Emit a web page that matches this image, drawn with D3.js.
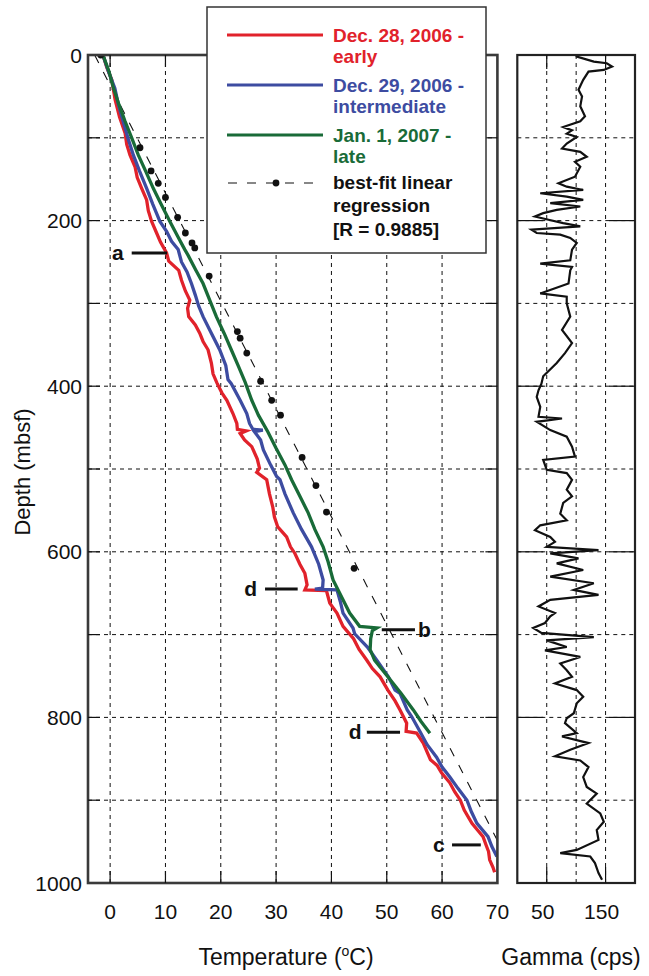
<!DOCTYPE html>
<html><head><meta charset="utf-8">
<script src="https://cdn.jsdelivr.net/npm/d3@7"></script>
<style>
html,body{margin:0;padding:0;background:#fff;}
svg{display:block;font-family:"Liberation Sans",Arial,Helvetica,sans-serif;}
</style></head>
<body><svg id="c" width="649" height="976"></svg>
<script>
// ---- data: [depth (mbsf), temperature (°C)] ----
const early = [[0,-1.3],[15,-0.6],[30,0.3],[54,0.9],[75,1.7],[94,2.7],[108,3.0],[121,3.6],[135,4.5],[148,4.9],[161,5.7],[175,6.6],[188,6.9],[201,7.5],[215,8.4],[226,9.1],[239,10.2],[249,10.6],[260,12.4],[272,12.9],[285,13.6],[296,14.4],[306,14.0],[316,14.2],[326,15.4],[336,16.2],[346,16.8],[356,17.7],[372,18.3],[385,18.6],[396,19.3],[408,20.2],[417,21.1],[433,22.2],[445,22.9],[452,23.0],[454,24.6],[457,23.5],[465,24.3],[473,25.6],[488,26.6],[499,27.0],[504,26.5],[513,28.3],[530,28.8],[546,29.4],[558,29.7],[570,30.3],[582,31.9],[594,32.6],[602,33.4],[615,34.3],[626,35.2],[640,35.6],[646,35.2],[647,39.1],[662,39.7],[674,41.0],[690,42.1],[705,44.0],[718,45.0],[731,46.4],[741,47.4],[751,48.8],[767,50.2],[780,51.5],[791,52.4],[799,53.0],[807,53.6],[817,53.5],[819,55.4],[831,56.6],[845,57.5],[851,57.9],[858,59.1],[867,59.9],[879,61.4],[890,62.3],[900,63.3],[912,64.0],[928,65.4],[936,66.4],[944,67.4],[955,68.0],[962,68.4],[972,68.6],[981,69.2],[987,69.5]];
const intermediate = [[0,-1.3],[20,-0.3],[40,0.85],[60,1.5],[80,2.35],[100,3.2],[121,4.2],[140,5.3],[161,6.6],[180,7.7],[201,9.0],[213,10.2],[225,11.1],[235,12.3],[250,12.9],[262,13.9],[276,14.7],[290,15.4],[303,16.0],[316,16.8],[336,18.3],[356,19.8],[375,20.9],[392,21.3],[397,21.9],[417,23.5],[433,24.7],[445,25.2],[452,25.8],[453,27.6],[455,26.1],[465,27.2],[477,27.7],[495,29.0],[509,30.1],[513,30.7],[530,31.6],[553,33.1],[573,34.6],[594,36.4],[615,37.7],[634,38.5],[644,38.4],[645,37.0],[646,41.0],[660,41.6],[674,42.1],[692,43.9],[699,44.2],[715,46.5],[731,48.2],[751,50.3],[767,51.5],[771,52.4],[791,53.7],[799,54.5],[817,56.0],[833,57.3],[848,59.0],[860,60.0],[872,61.4],[886,62.9],[900,64.5],[914,65.3],[928,66.3],[944,68.3],[956,69.0],[968,69.9]];
const late = [[0,-1.3],[20,-0.2],[40,0.6],[60,1.6],[80,2.7],[100,3.9],[121,5.1],[140,6.4],[161,7.8],[180,9.2],[201,10.8],[220,12.3],[235,13.5],[242,14.1],[260,15.5],[276,16.8],[296,18.0],[316,19.2],[336,20.6],[356,21.9],[376,23.2],[395,24.4],[417,25.6],[435,26.8],[455,28.5],[475,30.0],[495,31.6],[513,32.8],[533,34.3],[553,35.8],[573,37.0],[594,38.5],[612,39.4],[634,40.3],[650,41.5],[674,43.3],[690,45.1],[692,48.2],[695,47.4],[705,47.1],[718,47.0],[731,47.8],[751,50.2],[771,52.6],[791,54.8],[805,56.2],[819,57.8]];
const regressionPoints = [[0,-1.7],[112,5.4],[140,7.4],[155,8.7],[172,10.0],[196,12.2],[215,13.6],[227,14.8],[233,15.3],[267,17.9],[334,23.0],[342,23.5],[360,24.7],[394,27.2],[417,29.2],[435,30.8],[486,34.7],[520,37.2],[552,39.1],[620,44.1]];
const regressionLine = [[0,-2.8],[950,70.1]];
// ---- data: [depth (mbsf), gamma (cps)] ----
const gamma = [[0,100],[2,101],[8,130],[10,152],[14,161],[18,147],[20,121],[30,112],[42,104],[50,110],[62,107],[74,115],[80,107],[87,78],[91,93],[95,84],[99,101],[107,84],[113,76],[117,107],[123,118],[129,98],[135,107],[147,98],[155,70],[159,84],[163,112],[167,39],[171,84],[175,112],[179,56],[183,107],[187,67],[191,44],[195,30],[199,53],[203,78],[207,107],[211,24],[215,33],[217,73],[221,90],[227,101],[235,93],[248,90],[252,39],[256,93],[260,90],[276,87],[288,39],[292,84],[300,84],[316,90],[332,76],[348,93],[360,81],[372,67],[388,44],[397,41],[405,36],[413,33],[425,39],[437,36],[439,76],[443,33],[453,56],[461,84],[473,93],[485,98],[489,44],[501,50],[505,84],[513,93],[525,84],[533,93],[541,78],[554,73],[562,84],[568,39],[574,30],[582,56],[588,64],[594,50],[598,138],[602,56],[608,104],[614,67],[622,112],[630,56],[638,130],[646,96],[652,138],[658,56],[666,36],[674,64],[678,56],[686,47],[692,27],[698,41],[703,130],[707,50],[715,84],[719,47],[727,107],[735,73],[743,84],[751,93],[759,64],[767,101],[775,112],[783,101],[795,96],[801,84],[807,81],[819,101],[823,76],[831,121],[839,90],[847,64],[852,107],[860,121],[872,112],[884,118],[892,135],[904,118],[916,141],[926,147],[936,135],[948,138],[960,101],[964,73],[968,124],[976,132],[988,138],[996,144]];
// ---- ticks ----
const tempTicks = [0,10,20,30,40,50,60,70];
const tempGrid = [0,10,20,30,40,50,60];
const depthTicks = [0,200,400,600,800,1000];
const depthGrid = [100,200,300,400,500,600,700,800,900];
const gammaTicks = [50,150];
const gammaGrid = [50,100,150];
const gammaMajor = [200,400,600,800];
// ---- annotations: label, depth, temp of line start/end, label temp ----
const annotations = [
  {label:"a", depth:239, t1:3.9, t2:10.3, tl:1.4},
  {label:"d", depth:645, t1:28.0, t2:33.9, tl:25.4},
  {label:"b", depth:694, t1:49.1, t2:55.1, tl:56.8},
  {label:"d", depth:818, t1:46.4, t2:52.4, tl:44.3},
  {label:"c", depth:954, t1:61.8, t2:67.0, tl:59.4}
];
const legendItems = [
  {lines:["Dec. 28, 2006 -","early"], color:"#e1222b", type:"line"},
  {lines:["Dec. 29, 2006 -","intermediate"], color:"#3d4ca1", type:"line"},
  {lines:["Jan. 1, 2007 -","late"], color:"#196b38", type:"line"},
  {lines:["best-fit linear","regression","[R = 0.9885]"], color:"#111", type:"reg"}
];
const colors = {early:"#e1222b", intermediate:"#3d4ca1", late:"#196b38"};

const svg = d3.select("#c");
const x = d3.scaleLinear().domain([-4,70]).range([88,497.4]);
const y = d3.scaleLinear().domain([0,1000]).range([55,883]);
const gx = d3.scaleLinear().domain([0,200]).range([517.3,635]);

const defs = svg.append("defs");
defs.append("clipPath").attr("id","mainclip").append("rect")
  .attr("x",x(-4)).attr("y",y(0)).attr("width",x(70)-x(-4)).attr("height",y(1000)-y(0));
defs.append("clipPath").attr("id","gclip").append("rect")
  .attr("x",gx(0)).attr("y",y(0)).attr("width",gx(200)-gx(0)).attr("height",y(1000)-y(0));

// ---- main panel grid ----
const grid = svg.append("g").attr("stroke","#111").attr("stroke-width",1).attr("stroke-dasharray","4,4");
grid.selectAll(".vg").data(tempGrid).join("line")
  .attr("x1",d=>x(d)).attr("x2",d=>x(d)).attr("y1",y(0)).attr("y2",y(1000));
grid.selectAll(".hg").data(depthGrid).join("line")
  .attr("x1",x(-4)).attr("x2",x(70)).attr("y1",d=>y(d)).attr("y2",d=>y(d));

// ---- gamma grid ----
const ggrid = svg.append("g").attr("stroke","#111").attr("stroke-width",1).attr("stroke-dasharray","4,4");
ggrid.selectAll(".vg").data(gammaGrid).join("line")
  .attr("x1",d=>gx(d)).attr("x2",d=>gx(d)).attr("y1",y(0)).attr("y2",y(1000));
ggrid.selectAll(".hg").data(depthGrid).join("line")
  .attr("x1",gx(0)).attr("x2",gx(200)).attr("y1",d=>y(d)).attr("y2",d=>y(d));

// ---- curves ----
const line = d3.line().x(d=>x(d[1])).y(d=>y(d[0]));
const curves = svg.append("g").attr("clip-path","url(#mainclip)");
curves.append("path").datum(regressionLine).attr("d",line).attr("fill","none")
  .attr("stroke","#111").attr("stroke-width",1.1).attr("stroke-dasharray","9,10");
[["early",early],["intermediate",intermediate],["late",late]].forEach(([k,data])=>{
  curves.append("path").datum(data).attr("d",line).attr("fill","none")
    .attr("stroke",colors[k]).attr("stroke-width",3.3).attr("stroke-linejoin","miter");
});
curves.selectAll("circle").data(regressionPoints).join("circle")
  .attr("cx",d=>x(d[1])).attr("cy",d=>y(d[0])).attr("r",3.4).attr("fill","#111");

// gamma trace
const gline = d3.line().x(d=>gx(d[1])).y(d=>y(d[0]));
svg.append("g").attr("clip-path","url(#gclip)").append("path").datum(gamma).attr("d",gline)
  .attr("fill","none").attr("stroke","#111").attr("stroke-width",2.2);

// ---- frames & ticks ----
const frame = svg.append("g").attr("fill","none");
frame.append("rect").attr("x",x(-4)).attr("y",y(0)).attr("width",x(70)-x(-4)).attr("height",y(1000)-y(0))
  .attr("stroke","#3a3a3a").attr("stroke-width",2.6);
frame.append("rect").attr("x",gx(0)).attr("y",y(0)).attr("width",gx(200)-gx(0)).attr("height",y(1000)-y(0))
  .attr("stroke","#222").attr("stroke-width",2.2);

const ticks = svg.append("g").attr("stroke","#111").attr("stroke-width",1.2);
const tl = 12;
ticks.selectAll(".tt").data(tempGrid).join("line")
  .attr("x1",d=>x(d)).attr("x2",d=>x(d)).attr("y1",y(0)).attr("y2",y(0)+tl);
ticks.selectAll(".tb").data(tempGrid).join("line")
  .attr("x1",d=>x(d)).attr("x2",d=>x(d)).attr("y1",y(1000)).attr("y2",y(1000)-tl);
ticks.selectAll(".dl").data(depthGrid).join("line")
  .attr("x1",x(-4)).attr("x2",x(-4)+tl).attr("y1",d=>y(d)).attr("y2",d=>y(d));
ticks.selectAll(".dr").data(depthGrid).join("line")
  .attr("x1",x(70)).attr("x2",x(70)-tl).attr("y1",d=>y(d)).attr("y2",d=>y(d));
ticks.selectAll(".gt").data(gammaTicks).join("line")
  .attr("x1",d=>gx(d)).attr("x2",d=>gx(d)).attr("y1",y(0)).attr("y2",y(0)+14);
ticks.selectAll(".gb").data(gammaTicks).join("line")
  .attr("x1",d=>gx(d)).attr("x2",d=>gx(d)).attr("y1",y(1000)).attr("y2",y(1000)-16);
ticks.selectAll(".gl").data(gammaMajor).join("line")
  .attr("x1",gx(0)).attr("x2",gx(0)+26).attr("y1",d=>y(d)).attr("y2",d=>y(d));
ticks.selectAll(".gr").data(gammaMajor).join("line")
  .attr("x1",gx(200)).attr("x2",gx(200)-26).attr("y1",d=>y(d)).attr("y2",d=>y(d));

// ---- tick labels ----
const lab = svg.append("g").attr("font-size",21).attr("fill","#111");
lab.selectAll(".yl").data(depthTicks).join("text")
  .attr("x",82).attr("y",d=>y(d)).attr("dy","0.36em").attr("text-anchor","end").text(d=>d);
lab.selectAll(".xl").data(tempTicks).join("text")
  .attr("x",d=>x(d)).attr("y",919).attr("text-anchor","middle").text(d=>d);
lab.selectAll(".gl").data(gammaTicks).join("text")
  .attr("x",d=>gx(d)).attr("dx",-4).attr("y",919).attr("text-anchor","middle").text(d=>d);

// ---- axis titles ----
svg.append("text").attr("transform","translate(30,472) rotate(-90)").attr("text-anchor","middle")
  .attr("font-size",22).attr("fill","#111").text("Depth (mbsf)");
const tt = svg.append("text").attr("x",286).attr("y",965).attr("text-anchor","middle")
  .attr("font-size",23).attr("fill","#111");
tt.append("tspan").text("Temperature (");
tt.append("tspan").attr("font-size",14).attr("dy",-9).text("o");
tt.append("tspan").attr("dy",9).text("C)");
svg.append("text").attr("x",571).attr("y",965).attr("text-anchor","middle")
  .attr("font-size",23).attr("fill","#111").text("Gamma (cps)");

// ---- annotations ----
const ann = svg.append("g");
ann.selectAll("line").data(annotations).join("line")
  .attr("x1",d=>x(d.t1)).attr("x2",d=>x(d.t2)).attr("y1",d=>y(d.depth)).attr("y2",d=>y(d.depth))
  .attr("stroke","#111").attr("stroke-width",3);
ann.selectAll("text").data(annotations).join("text")
  .attr("x",d=>x(d.tl)).attr("y",d=>y(d.depth)).attr("dy","0.33em").attr("text-anchor","middle")
  .attr("font-size",21).attr("font-weight","bold").attr("fill","#111").text(d=>d.label);

// ---- legend ----
const lg = svg.append("g");
lg.append("rect").attr("x",207).attr("y",7).attr("width",279).attr("height",246)
  .attr("fill","#fff").attr("stroke","#333").attr("stroke-width",1.5);
const lineYs = [35,85,135,183];
const textYs = [[42,63],[92,113],[142,163],[189,212,236]];
legendItems.forEach((it,i)=>{
  if(it.type==="line"){
    lg.append("line").attr("x1",227).attr("x2",323).attr("y1",lineYs[i]).attr("y2",lineYs[i])
      .attr("stroke",it.color).attr("stroke-width",3);
  } else {
    lg.append("line").attr("x1",227).attr("x2",323).attr("y1",lineYs[i]).attr("y2",lineYs[i])
      .attr("stroke","#111").attr("stroke-width",1.1).attr("stroke-dasharray","9,10").attr("stroke-dashoffset",-1);
    lg.append("circle").attr("cx",276).attr("cy",lineYs[i]).attr("r",3.4).attr("fill","#111");
  }
  it.lines.forEach((t,j)=>{
    lg.append("text").attr("x",333).attr("y",textYs[i][j]).attr("font-size",19)
      .attr("font-weight","bold").attr("fill",it.color).text(t);
  });
});
</script></body></html>
